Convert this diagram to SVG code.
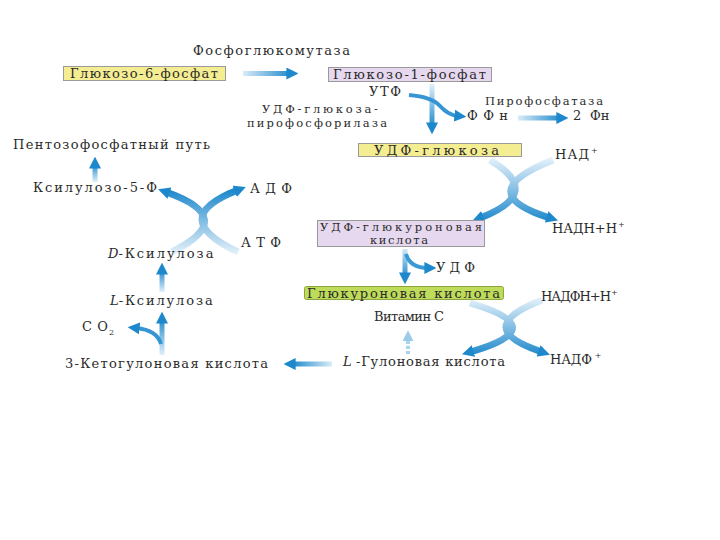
<svg xmlns="http://www.w3.org/2000/svg" width="720" height="540" viewBox="0 0 720 540">
<style>
text{font-family:"DejaVu Serif","Liberation Serif",serif;font-size:13px;fill:#2b2b2b}
.sm{font-size:11.5px}
.sup{font-size:8px}
.box{stroke:#9a9a9a;stroke-width:1}
.y{fill:#f4ed92}
.l{fill:#e6d8ef}
.g{fill:#bedb5a;stroke:#8ca53c}
.sh{fill:none;stroke-width:5}
.arc{fill:none;stroke-width:7}
</style>
<defs>
<marker id="ah" viewBox="0 0 10 10" refX="3" refY="5" markerWidth="12" markerHeight="12" markerUnits="userSpaceOnUse" orient="auto"><path d="M0,0 L10,5 L0,10 z" fill="#1d88cb"/></marker>
<marker id="ahl" viewBox="0 0 10 10" refX="3" refY="5" markerWidth="11" markerHeight="11" markerUnits="userSpaceOnUse" orient="auto"><path d="M0,0 L10,5 L0,10 z" fill="#9ccbea"/></marker>
<linearGradient id="gh1" gradientUnits="userSpaceOnUse" x1="243" y1="0" x2="292" y2="0"><stop offset="0" stop-color="#d8ecf8"/><stop offset="1" stop-color="#1d88cb"/></linearGradient>
<linearGradient id="gh2" gradientUnits="userSpaceOnUse" x1="518" y1="0" x2="562" y2="0"><stop offset="0" stop-color="#d8ecf8"/><stop offset="1" stop-color="#1d88cb"/></linearGradient>
<linearGradient id="gh3" gradientUnits="userSpaceOnUse" x1="332" y1="0" x2="292" y2="0"><stop offset="0" stop-color="#d8ecf8"/><stop offset="1" stop-color="#1d88cb"/></linearGradient>
<linearGradient id="gv1" gradientUnits="userSpaceOnUse" x1="0" y1="84" x2="0" y2="128"><stop offset="0" stop-color="#e0f0fa"/><stop offset="1" stop-color="#1d88cb"/></linearGradient>
<linearGradient id="gv2" gradientUnits="userSpaceOnUse" x1="0" y1="248" x2="0" y2="278"><stop offset="0" stop-color="#d8ecf8"/><stop offset="1" stop-color="#1d88cb"/></linearGradient>
<linearGradient id="gu1" gradientUnits="userSpaceOnUse" x1="0" y1="182" x2="0" y2="164"><stop offset="0" stop-color="#e0f0fa"/><stop offset="1" stop-color="#1d88cb"/></linearGradient>
<linearGradient id="gu2" gradientUnits="userSpaceOnUse" x1="0" y1="292" x2="0" y2="270"><stop offset="0" stop-color="#e0f0fa"/><stop offset="1" stop-color="#1d88cb"/></linearGradient>
<linearGradient id="gu3" gradientUnits="userSpaceOnUse" x1="0" y1="355" x2="0" y2="318"><stop offset="0" stop-color="#e0f0fa"/><stop offset="1" stop-color="#1d88cb"/></linearGradient>
<linearGradient id="gx1" gradientUnits="userSpaceOnUse" x1="0" y1="158" x2="0" y2="222"><stop offset="0" stop-color="#e4f1fa"/><stop offset="0.45" stop-color="#8ec3e6"/><stop offset="1" stop-color="#1d88cb"/></linearGradient>
<linearGradient id="gx2" gradientUnits="userSpaceOnUse" x1="0" y1="298" x2="0" y2="356"><stop offset="0" stop-color="#e4f1fa"/><stop offset="0.45" stop-color="#8ec3e6"/><stop offset="1" stop-color="#1d88cb"/></linearGradient>
<linearGradient id="gx3" gradientUnits="userSpaceOnUse" x1="0" y1="254" x2="0" y2="190"><stop offset="0" stop-color="#e4f1fa"/><stop offset="0.45" stop-color="#8ec3e6"/><stop offset="1" stop-color="#1d88cb"/></linearGradient>
</defs>
<rect width="720" height="540" fill="#ffffff"/>

<g id="connectors">
<path class="sh" d="M243,73.5 L290,73.5" stroke="url(#gh1)" marker-end="url(#ah)"/>
<path class="sh" d="M432,84 L432,126" stroke="url(#gv1)" marker-end="url(#ah)"/>
<path fill="none" stroke="#3596d3" stroke-width="4" d="M409,95 Q432,97 440,106 Q448,115 458,116" marker-end="url(#ah)"/>
<path class="sh" d="M518,118 L560,118" stroke="url(#gh2)" marker-end="url(#ah)"/>
<path class="arc" d="M490,160 Q545,193 480,218" stroke="url(#gx1)" marker-end="url(#ah)"/>
<path class="arc" d="M553,160 Q470,193 550,218" stroke="url(#gx1)" marker-end="url(#ah)"/>
<path class="sh" d="M405,249 L405,276" stroke="url(#gv2)" marker-end="url(#ah)"/>
<path fill="none" stroke="#3a9ad6" stroke-width="4" d="M406,254 Q410,268 428,268" marker-end="url(#ah)"/>
<path class="arc" d="M470,303 Q555,328 470,352" stroke="url(#gx2)" marker-end="url(#ah)"/>
<path class="arc" d="M542,300 Q470,328 542,352" stroke="url(#gx2)" marker-end="url(#ah)"/>
<path fill="none" stroke="#a9d2ee" stroke-width="4" stroke-dasharray="3,2" d="M408,354 L408,338" marker-end="url(#ahl)"/>
<path class="sh" d="M332,364 L292,364" stroke="url(#gh3)" marker-end="url(#ah)"/>
<path class="sh" d="M162,355 L162,320" stroke="url(#gu3)" marker-end="url(#ah)"/>
<path fill="none" stroke="#3596d3" stroke-width="4" d="M161,344 Q157,330 136,328" marker-end="url(#ah)"/>
<path class="sh" d="M162,292 L162,271" stroke="url(#gu2)" marker-end="url(#ah)"/>
<path class="arc" d="M172,252 Q240,218 166,192" stroke="url(#gx3)" marker-end="url(#ah)"/>
<path class="arc" d="M238,252 Q166,218 238,190" stroke="url(#gx3)" marker-end="url(#ah)"/>
<path class="sh" d="M95,182 L95,165" stroke="url(#gu1)" marker-end="url(#ah)"/>
</g>

<g id="enzyme-phosphoglucomutase"><text x="193" y="55" textLength="157">Фосфоглюкомутаза</text></g>
<g id="glucose-6-phosphate"><rect class="box y" x="63.5" y="66.5" width="162" height="14"/><text x="70" y="78" textLength="148">Глюкозо-6-фосфат</text></g>
<g id="glucose-1-phosphate"><rect class="box l" x="328.5" y="67.5" width="163" height="14"/><text x="333" y="79" textLength="153">Глюкозо-1-фосфат</text></g>
<g id="utp"><text x="369" y="96" textLength="32">УТФ</text></g>
<g id="enzyme-udpg-pyrophosphorylase"><text class="sm" x="262" y="113" textLength="116">УДФ-глюкоза-</text><text class="sm" x="247" y="127" textLength="140">пирофосфорилаза</text></g>
<g id="enzyme-pyrophosphatase"><text class="sm" x="485" y="105" textLength="118">Пирофосфатаза</text></g>
<g id="ppi"><text x="467" y="120" textLength="41">ФФн</text></g>
<g id="two-pi"><text x="573" y="120">2</text><text x="590" y="120">Фн</text></g>
<g id="udp-glucose"><rect class="box y" x="358.5" y="143.5" width="163" height="13"/><text x="374" y="154.5" textLength="125">УДФ-глюкоза</text></g>
<g id="nad"><text x="555" y="159"><tspan textLength="34">НАД</tspan><tspan class="sup" dx="1" dy="-6">+</tspan></text></g>
<g id="udp-glucuronic-acid"><rect class="box l" x="317.5" y="220.5" width="167" height="26"/><text class="sm" x="320" y="231" textLength="162">УДФ-глюкуроновая</text><text class="sm" x="370" y="244" textLength="58">кислота</text></g>
<g id="nadh"><text x="552" y="233" font-size="12"><tspan textLength="65">НАДН+Н</tspan><tspan class="sup" dx="1" dy="-6">+</tspan></text></g>
<g id="udp"><text x="436" y="272" textLength="39">УДФ</text></g>
<g id="glucuronic-acid"><rect class="g" x="304.5" y="286.5" width="199" height="13" rx="2"/><text x="307" y="297.5" textLength="193">Глюкуроновая кислота</text></g>
<g id="nadph"><text x="541" y="301" font-size="12"><tspan textLength="70">НАДФН+Н</tspan><tspan class="sup" dx="1" dy="-6">+</tspan></text></g>
<g id="vitamin-c"><text x="374" y="321" textLength="70">Витамин С</text></g>
<g id="nadp"><text x="550" y="364"><tspan textLength="42">НАДФ</tspan><tspan class="sup" dx="3" dy="-6">+</tspan></text></g>
<g id="l-gulonic-acid"><text x="343" y="366"><tspan font-style="italic">L</tspan><tspan x="356" textLength="149">-Гулоновая кислота</tspan></text></g>
<g id="3-ketogulonic-acid"><text x="65" y="368" textLength="203">3-Кетогулоновая кислота</text></g>
<g id="co2"><text x="82" y="331" textLength="26">CO</text><text x="109" y="335" class="sup">2</text></g>
<g id="l-xylulose"><text x="110" y="305"><tspan font-style="italic">L</tspan><tspan textLength="94">-Ксилулоза</tspan></text></g>
<g id="d-xylulose"><text x="108" y="258"><tspan font-style="italic">D</tspan><tspan textLength="95">-Ксилулоза</tspan></text></g>
<g id="atp"><text x="241" y="247" textLength="40">АТФ</text></g>
<g id="adp"><text x="250" y="193" textLength="42">АДФ</text></g>
<g id="xylulose-5-p"><text x="33" y="192" textLength="124">Ксилулозо-5-Ф</text></g>
<g id="pentose-phosphate-pathway"><text x="13" y="149" textLength="197">Пентозофосфатный путь</text></g>
</svg>
